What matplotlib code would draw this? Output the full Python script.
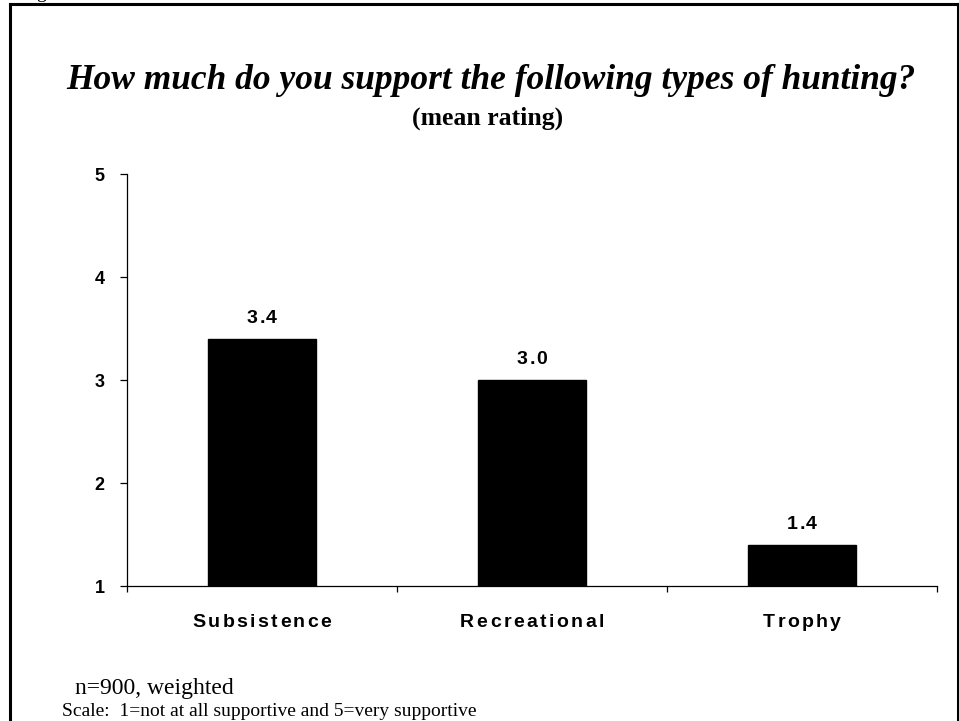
import matplotlib
matplotlib.use('Agg')
import matplotlib.pyplot as plt
from matplotlib.font_manager import FontProperties, findfont, get_font
from matplotlib.transforms import offset_copy
from matplotlib.lines import Line2D

# data
categories = ['Subsistence', 'Recreational', 'Trophy']
mean_rating = [3.4, 3.0, 1.4]
value_labels = ['3.4', '3.0', '1.4']
y_ticks = [1, 2, 3, 4, 5]

title = 'How much do you support the following types of hunting?'
subtitle = '(mean rating)'
note1 = 'n=900, weighted'
note2 = 'Scale:  1=not at all supportive and 5=very supportive'

sans = 'Liberation Sans'
serif = 'Liberation Serif'


def spaced_text(ax, x, y, s, prop, spacing, transform, yoff):
    # draw text char by char with extra letter spacing (points), centered on x
    font = get_font(findfont(prop))
    font.set_size(prop.get_size_in_points(), 72)
    widths = [font.load_char(ord(c)).linearHoriAdvance / 65536 for c in s]
    total = sum(widths) + spacing * (len(s) - 1)
    pos = -total / 2
    for c, w in zip(s, widths):
        tr = offset_copy(transform, fig=ax.figure, x=pos, y=yoff, units='points')
        ax.text(x, y, c, fontproperties=prop, transform=tr,
                ha='left', va='baseline', clip_on=False)
        pos += w + spacing


fig = plt.figure(figsize=(9.59, 7.21), dpi=100)
ax = fig.add_axes([0.1324, 0.1872, 0.8446, 0.5714])

x = list(range(len(categories)))
ax.bar(x, mean_rating, width=0.40, color='black', edgecolor='black')

ax.set_xlim(-0.5, len(categories) - 0.5)
ax.set_ylim(1, 5)

ax.spines['top'].set_visible(False)
ax.spines['right'].set_visible(False)
ax.spines['left'].set_linewidth(0.9)
ax.spines['bottom'].set_linewidth(0.9)

ax.set_xticks([i - 0.5 for i in range(len(categories) + 1)])
ax.set_xticklabels([])
ax.tick_params(axis='x', length=4.5, width=0.9, direction='out')

ax.set_yticks(y_ticks)
ax.set_yticklabels([str(v) for v in y_ticks], fontfamily=sans,
                   fontweight='bold', fontsize=13)
ax.tick_params(axis='y', length=5, width=0.9, direction='out', pad=11)

# category labels, letter spaced
cat_prop = FontProperties(family=sans, weight='bold', size=14)
for xi, name in zip(x, categories):
    spaced_text(ax, xi, 0, name, cat_prop, 1.75,
                ax.get_xaxis_transform(), -29.5)

# value labels above bars
val_prop = FontProperties(family=sans, weight='bold', size=14)
for xi, v, lab in zip(x, mean_rating, value_labels):
    spaced_text(ax, xi, v, lab, val_prop, 1.1, ax.transData, 11.5)

# titles
fig.text(491 / 959, 1 - 89 / 721, title, ha='center', va='baseline',
         fontfamily=serif, fontstyle='italic', fontweight='bold', fontsize=25.5)
fig.text(0.508, 1 - 125 / 721, subtitle, ha='center', va='baseline',
         fontfamily=serif, fontweight='bold', fontsize=18.5)

# notes
fig.text(75 / 959, 1 - 694 / 721, note1, ha='left', va='baseline',
         fontfamily=serif, fontsize=17)
fig.text(62 / 959, 1 - 716 / 721, note2, ha='left', va='baseline',
         fontfamily=serif, fontsize=14)

# cut-off letter above the frame
fig.text(36 / 959, 1 + 1.5 / 721, 'g', ha='left', va='baseline',
         fontfamily=serif, fontsize=14)

# frame
lw = 2.2
fig.add_artist(Line2D([10 / 959, 10 / 959], [0, 1 - 4 / 721], color='black', lw=lw))
fig.add_artist(Line2D([10 / 959, 1.0], [1 - 4 / 721, 1 - 4 / 721], color='black', lw=lw))
fig.add_artist(Line2D([957.5 / 959, 957.5 / 959], [0, 1 - 4 / 721], color='black', lw=lw))

fig.savefig('out.png', dpi=100)
